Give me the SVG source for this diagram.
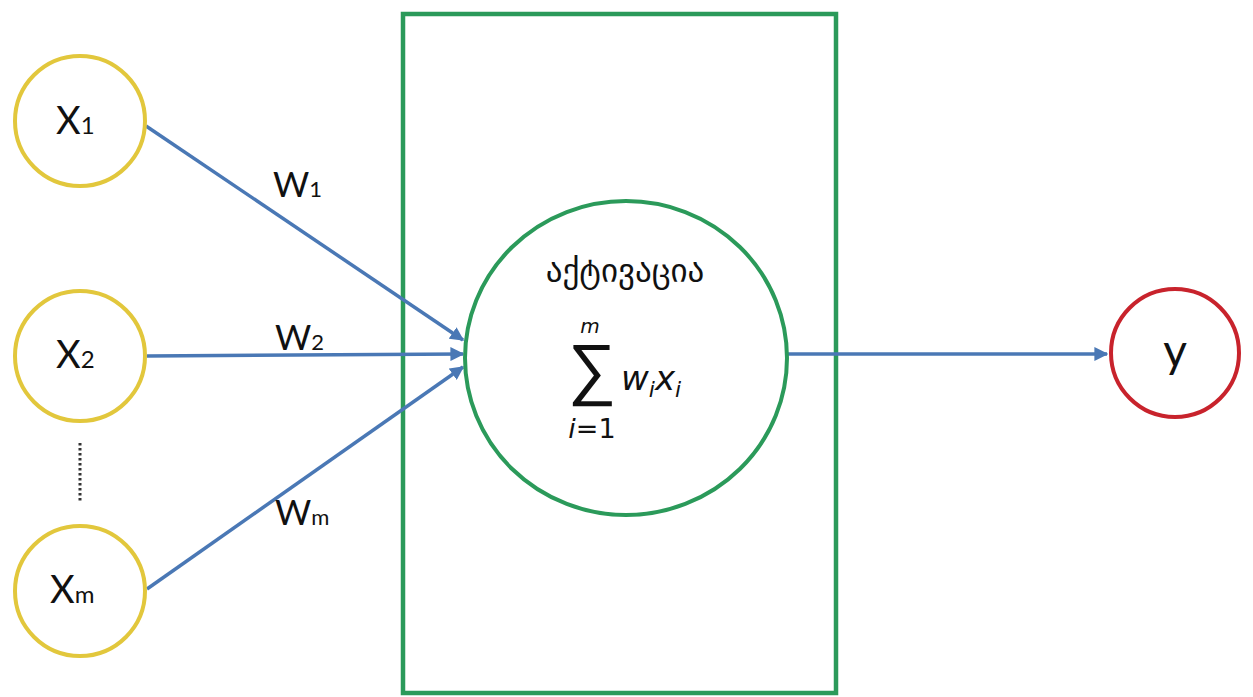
<svg xmlns="http://www.w3.org/2000/svg" width="1253" height="697" viewBox="0 0 1253 697">
<style>
.inp{fill:#fff;stroke:#e2c73c;stroke-width:4}
.out{fill:#fff;stroke:#c8232c;stroke-width:4}
.grn{fill:#fff;stroke:#2b9a5a;stroke-width:4}
.edge{stroke:#4a78b5;stroke-width:3.5;fill:none}
.lbl{font-family:Lato,"DejaVu Sans",sans-serif;fill:#111}
.math{font-family:"DejaVu Sans",sans-serif;fill:#111}
</style>
<defs>
<marker id="ah" viewBox="0 0 10 10" refX="9" refY="5" markerWidth="4" markerHeight="4" orient="auto" markerUnits="strokeWidth">
<path d="M0,0 L10,5 L0,10 z" fill="#4a78b5"/>
</marker>
</defs>
<rect width="1253" height="697" fill="#fff"/>
<g id="box">
<rect x="403" y="14" width="433" height="679" fill="#fff" stroke="#2b9a5a" stroke-width="4.5"/>
</g>
<g id="connectors">
<line class="edge" x1="146" y1="126" x2="463" y2="340" marker-end="url(#ah)"/>
<line class="edge" x1="147" y1="356" x2="463" y2="354" marker-end="url(#ah)"/>
<line class="edge" x1="147" y1="589" x2="463" y2="367" marker-end="url(#ah)"/>
<line class="edge" x1="787" y1="354" x2="1107" y2="354" marker-end="url(#ah)"/>
<line x1="80" y1="443" x2="80" y2="503" stroke="#333" stroke-width="3" stroke-dasharray="2.5 2.5"/>
<text class="lbl" x="273" y="197" font-size="35">W<tspan font-size="22">1</tspan></text>
<text class="lbl" x="275" y="350" font-size="35">W<tspan font-size="22">2</tspan></text>
<text class="lbl" x="275" y="525" font-size="35">W<tspan font-size="22">m</tspan></text>
</g>
<g id="neuron">
<ellipse class="grn" cx="626" cy="358" rx="161" ry="157"/>
<text x="625" y="282" font-family="'DejaVu Sans',sans-serif" font-size="33" text-anchor="middle" fill="#111">აქტივაცია</text>
<text class="math" x="590" y="333" font-size="20" font-style="italic" text-anchor="middle">m</text>
<text class="math" x="592" y="392" font-size="68" font-weight="200" text-anchor="middle">∑</text>
<text class="math" x="592" y="438" font-size="27" text-anchor="middle"><tspan font-style="italic">i</tspan>=1</text>
<text class="math" x="621" y="390" font-size="34" font-style="italic">w<tspan font-size="22" dy="7">i</tspan><tspan dy="-7">x</tspan><tspan font-size="22" dy="7">i</tspan></text>
</g>
<g id="x1">
<circle class="inp" cx="80" cy="121" r="65"/>
<text class="lbl" x="56" y="134" font-size="38">X<tspan font-size="24">1</tspan></text>
</g>
<g id="x2">
<circle class="inp" cx="80" cy="356" r="65"/>
<text class="lbl" x="56" y="368" font-size="38">X<tspan font-size="24">2</tspan></text>
</g>
<g id="xm">
<circle class="inp" cx="80" cy="591" r="65"/>
<text class="lbl" x="50" y="603" font-size="38">X<tspan font-size="24">m</tspan></text>
</g>
<g id="y">
<circle class="out" cx="1175" cy="353" r="64"/>
<text class="lbl" x="1175" y="367" font-size="46" text-anchor="middle">y</text>
</g>
</svg>
